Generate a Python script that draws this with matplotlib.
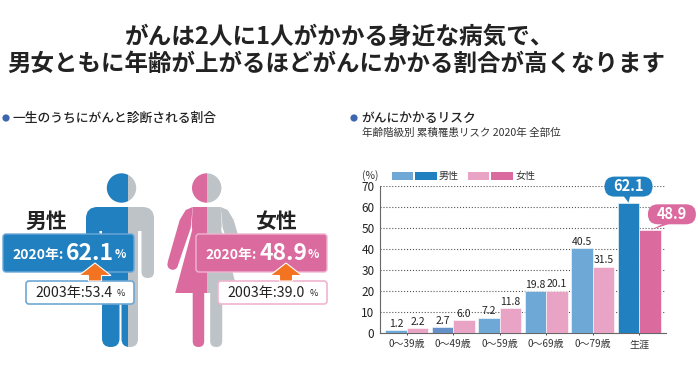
import matplotlib
matplotlib.use('Agg')
import matplotlib.pyplot as plt
import numpy as np
from matplotlib.patches import Circle, FancyBboxPatch, Polygon, Rectangle

plt.rcParams['font.family'] = ['Noto Sans CJK JP', 'DejaVu Sans']

# chart data
age_labels = ['0〜39歳', '0〜49歳', '0〜59歳', '0〜69歳', '0〜79歳', '生涯']
male_values = [1.2, 2.7, 7.2, 19.8, 40.5, 62.1]
female_values = [2.2, 6.0, 11.8, 20.1, 31.5, 48.9]
y_ticks = [0, 10, 20, 30, 40, 50, 60, 70]
male_2020 = '62.1'
female_2020 = '48.9'
male_2003 = '53.4'
female_2003 = '39.0'

BLUE = '#2180BF'
LIGHT_BLUE = '#6DA8D6'
PINK = '#DB6A9F'
LIGHT_PINK = '#E9A3C5'
GREY = '#BDC3C7'
ORANGE = '#F47321'
W, H = 698, 368

fig = plt.figure(figsize=(W / 100, H / 100), dpi=100)
ov = fig.add_axes([0, 0, 1, 1])
ov.set_xlim(0, W)
ov.set_ylim(H, 0)
ov.axis('off')


def rbox(axes, x0, y0, x1, y1, r, **kw):
    p = FancyBboxPatch((x0 + r, y0 + r), x1 - x0 - 2 * r, y1 - y0 - 2 * r,
                       boxstyle='round,pad=%f,rounding_size=%f' % (r, r), **kw)
    axes.add_patch(p)
    return p


def split_draw(make_parts, sides):
    # each side of the figure gets its own colour, cut at the split
    for color, x0, x1 in sides:
        clip = Rectangle((x0, 150), x1 - x0, 210, transform=ov.transData)
        for p in make_parts(color):
            p.set_clip_path(clip)


def male_parts(c):
    kw = dict(fc=c, ec='none', lw=0)
    parts = [ov.add_patch(Circle((121.5, 188), 14.7, **kw))]
    parts.append(rbox(ov, 86, 207, 154, 231, 11.5, **kw))
    parts.append(rbox(ov, 86, 215, 99.5, 278, 6.5, **kw))
    parts.append(rbox(ov, 141.5, 215, 154, 278, 6.2, **kw))
    parts.append(rbox(ov, 102, 220, 138, 290, 1, **kw))
    parts.append(rbox(ov, 102, 270, 119.5, 347, 8.5, **kw))
    parts.append(rbox(ov, 121.5, 270, 138, 347, 8, **kw))
    return parts


def female_parts(c):
    cx = 206.7
    kw = dict(fc=c, ec='none', lw=0)
    parts = [ov.add_patch(Circle((cx, 188), 14.7, **kw))]
    outline = [(-14, 207), (14, 207), (15, 225), (14.5, 230), (31.5, 293), (-31.5, 293),
               (-14.5, 230), (-15, 225)]
    parts.append(ov.add_patch(Polygon([(cx + a, b) for a, b in outline], closed=True, **kw)))
    arm = [(-14, 207), (-21, 210), (-27, 220), (-39, 262), (-29, 266), (-16, 228)]
    for sgn in (-1, 1):
        parts.append(ov.add_patch(Polygon([(cx - sgn * a, b) for a, b in arm], closed=True, **kw)))
        parts.append(ov.add_patch(Circle((cx + sgn * 34, 264.5), 5.3, **kw)))
    parts.append(rbox(ov, cx - 14, 285, cx - 2.5, 347, 5.7, **kw))
    parts.append(rbox(ov, cx + 3.5, 285, cx + 15.5, 347, 5.9, **kw))
    return parts


split_draw(male_parts, [(BLUE, 60, 128), (GREY, 128, 170)])
split_draw(female_parts, [(PINK, 160, 206.5), (GREY, 206.5, 250)])

# title and section headings
ov.text(340, 37, 'がんは2人に1人がかかる身近な病気で、', ha='center', va='center',
        fontsize=17, fontweight='bold', color='#222222')
ov.text(336, 64, '男女ともに年齢が上がるほどがんにかかる割合が高くなります', ha='center', va='center',
        fontsize=16.9, fontweight='bold', color='#222222')
for x in (6, 354):
    ov.add_patch(Circle((x, 118), 3.6, fc='#3D66B0', ec='none'))
ov.text(12, 118, '一生のうちにがんと診断される割合', va='center', fontsize=9.2, fontweight='medium', color='#222222')
ov.text(361, 118, 'がんにかかるリスク', va='center', fontsize=9.2, fontweight='medium', color='#222222')
ov.text(362, 133, '年齢階級別 累積罹患リスク 2020年 全部位', va='center', fontsize=7.6, color='#333333')

ov.text(46, 221, '男性', ha='center', va='center', fontsize=15, fontweight='bold', color='#222222')
ov.text(276, 221, '女性', ha='center', va='center', fontsize=15, fontweight='bold', color='#222222')


def callout(x0, x1, x2, color, edge, value, old, arrow_x):
    # large box with the 2020 value
    rbox(ov, x0, 234, x0 + 131, 272, 3, fc=color, ec=edge, lw=1, zorder=5)
    ov.text(x0 + 9.5, 255, '2020年:', va='center', fontsize=10, fontweight='bold', color='white', zorder=6)
    ov.text(x0 + 63, 253, value, va='center', fontsize=16.5, fontweight='bold', color='white', zorder=6)
    ov.text(x0 + 112, 255, '%', va='center', fontsize=8.5, fontweight='bold', color='white', zorder=6)
    # small box with the 2003 value
    rbox(ov, x1, 281, x2, 304, 3, fc='white', ec=edge, lw=1.2, zorder=5)
    ov.text(x1 + 9.5, 293.5, '2003年:' + old, va='center', fontsize=10.2, color='#222222', zorder=6)
    ov.text(x2 - 13, 294, '%', ha='center', va='center', fontsize=6.5, color='#222222', zorder=6)
    pts = [(arrow_x, 263), (arrow_x + 16, 275.5), (arrow_x + 6.5, 275.5), (arrow_x + 6.5, 281),
           (arrow_x - 6.5, 281), (arrow_x - 6.5, 275.5), (arrow_x - 16, 275.5)]
    ov.add_patch(Polygon(pts, closed=True, fc=ORANGE, ec='white', lw=0.8, zorder=7))


callout(3, 26, 134, BLUE, '#6DA8D6', male_2020, male_2003, 95)
callout(196, 218, 327, PINK, '#F0B5D0', female_2020, female_2003, 286)

# legend
for x0, x1, c in [(392, 413, LIGHT_BLUE), (415, 437, BLUE), (468, 489, LIGHT_PINK), (491, 513, PINK)]:
    ov.add_patch(Rectangle((x0, 172), x1 - x0, 8, fc=c, ec='none'))
ov.text(439, 176, '男性', va='center', fontsize=7.2, color='#333333')
ov.text(516, 176, '女性', va='center', fontsize=7.2, color='#333333')
ov.text(362, 176, '(%)', va='center', fontsize=7.5, color='#333333')

# bar chart
ax = fig.add_axes([380 / W, 1 - 333 / H, 286 / W, 147 / H], facecolor='none')
x = np.arange(len(age_labels))
bw = 0.46
male_colors = [LIGHT_BLUE] * 5 + [BLUE]
male_colors[1] = '#6590C8'
female_colors = [LIGHT_PINK] * 5 + [PINK]
ax.bar(x - bw / 2, male_values, bw, color=male_colors, edgecolor='white', linewidth=0.4, zorder=3)
ax.bar(x + bw / 2, female_values, bw, color=female_colors, edgecolor='white', linewidth=0.4, zorder=3)
ax.set_xlim(-0.574, 5.576)
ax.set_ylim(0, 70)
ax.set_yticks(y_ticks)
ax.set_xticks(x)
ax.set_xticklabels(age_labels)
ax.tick_params(axis='y', length=0, labelsize=8.5, pad=4, colors='#222222')
ax.tick_params(axis='x', length=3, width=0.6, labelsize=7.2, pad=3, colors='#333333', direction='inout')
ax.grid(axis='y', linestyle=':', color='#555555', linewidth=0.8, zorder=1)
ax.set_axisbelow(True)
for s in ('top', 'right'):
    ax.spines[s].set_visible(False)
for s in ('left', 'bottom'):
    ax.spines[s].set_linewidth(0.8)
    ax.spines[s].set_color('#666666')

for i in range(5):
    ax.annotate(str(male_values[i]), (x[i] - bw / 2, male_values[i]), xytext=(0, 1), textcoords='offset points',
                ha='center', va='bottom', fontsize=7.5, color='#222222', zorder=5)
    ax.annotate(str(female_values[i]), (x[i] + bw / 2, female_values[i]), xytext=(0, 1), textcoords='offset points',
                ha='center', va='bottom', fontsize=7.5, color='#222222', zorder=5)

# bubbles for the lifetime bars go on their own layer above the chart
top = fig.add_axes([0, 0, 1, 1], facecolor='none')
top.set_xlim(0, W)
top.set_ylim(H, 0)
top.axis('off')


def bubble(bar_x, value, dx, color):
    px, py = ax.transData.transform((bar_x, value))
    py = H - py
    cx, cy = px + dx, py - 16
    rbox(top, cx - 24, cy - 10, cx + 24, cy + 10, 10, fc=color, ec='none', zorder=3)
    top.add_patch(Polygon([(cx - 6, cy + 8), (cx + 2, cy + 8), (px, py)], closed=True, fc=color, ec='none', zorder=3))
    top.text(cx, cy - 0.5, str(value), ha='center', va='center', fontsize=10.5, fontweight='bold', color='white', zorder=4)


bubble(x[5] - bw / 2, male_values[5], 0, BLUE)
bubble(x[5] + bw / 2, female_values[5], 22, PINK)

plt.savefig('out.png', dpi=100)
